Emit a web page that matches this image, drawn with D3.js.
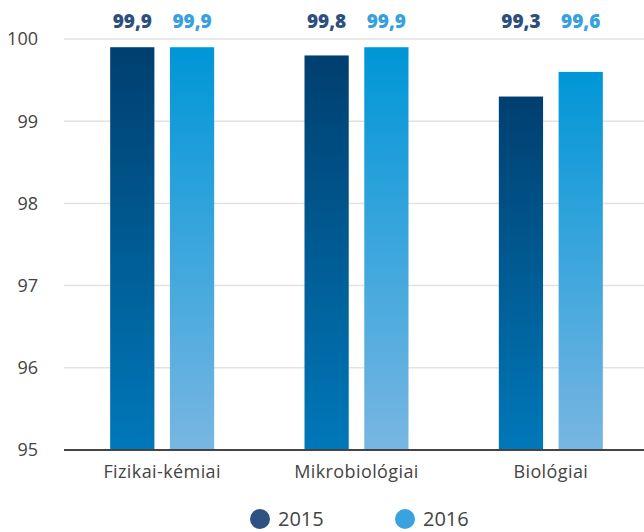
<!DOCTYPE html>
<html><head><meta charset="utf-8">
<script src="https://cdn.jsdelivr.net/npm/d3@7"></script>
<style>body{margin:0;background:#fff}svg{display:block;font-family:"Open Sans",Lato,sans-serif}</style>
</head><body><svg id="c" width="644" height="532"></svg>
<script>
const categories = ["Fizikai-kémiai", "Mikrobiológiai", "Biológiai"];
const years = ["2015", "2016"];
const values2015 = [99.9, 99.8, 99.3];
const values2016 = [99.9, 99.9, 99.6];
const yTicks = [95, 96, 97, 98, 99, 100];

const svg = d3.select("#c");
const x0 = d3.scaleBand().domain(categories).range([65, 648]);
const x1 = d3.scaleBand().domain(years).range([-52, 52]).paddingInner(0.26);
const y = d3.scaleLinear().domain([95, 100]).range([450, 39]);

const defs = svg.append("defs");
const grads = [
  {id: "g2015", top: "#003f6f", bot: "#0078b9"},
  {id: "g2016", top: "#0096d7", bot: "#78b6e2"}
];
grads.forEach(g => {
  const lg = defs.append("linearGradient").attr("id", g.id).attr("x1", 0).attr("y1", 0).attr("x2", 0).attr("y2", 1);
  lg.append("stop").attr("offset", "0%").attr("stop-color", g.top);
  lg.append("stop").attr("offset", "100%").attr("stop-color", g.bot);
});

// grid
svg.append("g").selectAll("line").data(yTicks.filter(t => t !== 95)).join("line")
  .attr("x1", 64).attr("x2", 644).attr("y1", d => y(d)).attr("y2", d => y(d))
  .attr("stroke", "#e2e2e2").attr("stroke-width", 1.5);

// y labels
svg.append("g").selectAll("text").data(yTicks).join("text")
  .attr("x", 38).attr("y", d => y(d)).attr("dy", "0.35em").attr("text-anchor", "end")
  .attr("font-size", 18).attr("fill", "#444").text(d => d);

const series = [
  {year: "2015", vals: values2015, grad: "url(#g2015)", label: "#2d4f7e"},
  {year: "2016", vals: values2016, grad: "url(#g2016)", label: "#37a0de"}
];
series.forEach(s => {
  const g = svg.append("g");
  g.selectAll("rect").data(categories).join("rect")
    .attr("x", (c) => x0(c) + x0.bandwidth()/2 + x1(s.year))
    .attr("width", x1.bandwidth())
    .attr("y", (c, i) => y(s.vals[i]))
    .attr("height", (c, i) => y(95) - y(s.vals[i]))
    .attr("fill", s.grad);
  g.selectAll("text").data(categories).join("text")
    .attr("x", (c) => x0(c) + x0.bandwidth()/2 + x1(s.year) + x1.bandwidth()/2)
    .attr("y", 28).attr("text-anchor", "middle")
    .attr("font-size", 19).attr("font-weight", 800).attr("fill", s.label)
    .text((c, i) => String(s.vals[i]).replace(".", ","));
});

// baseline
svg.append("line").attr("x1", 64).attr("x2", 644).attr("y1", y(95)).attr("y2", y(95))
  .attr("stroke", "#444").attr("stroke-width", 2);

// category labels
svg.append("g").selectAll("text").data(categories).join("text")
  .attr("x", c => x0(c) + x0.bandwidth()/2).attr("y", 478).attr("text-anchor", "middle")
  .attr("font-size", 18).attr("letter-spacing", 0.4).attr("fill", "#444").text(c => c);

// legend
const legend = [{year: "2015", color: "#2e5282", x: 260}, {year: "2016", color: "#3aa2e0", x: 405}];
const lg = svg.append("g").selectAll("g").data(legend).join("g")
  .attr("transform", d => `translate(${d.x},519)`);
lg.append("circle").attr("r", 10).attr("fill", d => d.color);
lg.append("text").attr("x", 18).attr("dy", "0.35em").attr("font-size", 20).attr("fill", "#444").text(d => d.year);
</script></body></html>
